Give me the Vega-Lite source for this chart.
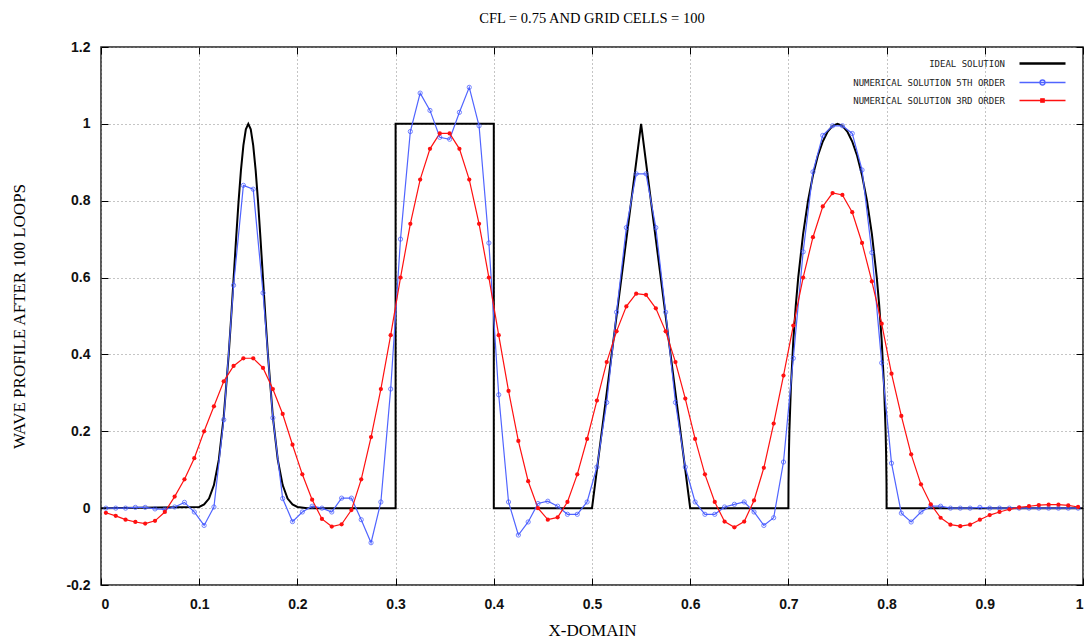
{
  "$schema": "https://vega.github.io/schema/vega-lite/v6.json",
  "width": 982,
  "height": 538,
  "autosize": {"type": "none"},
  "padding": {"left": 101, "top": 47, "right": 3, "bottom": 57},
  "background": "white",
  "config": {
    "view": {"stroke": "#222", "strokeWidth": 1.5},
    "font": "Liberation Serif"
  },
  "title": {
    "text": "CFL = 0.75 AND GRID CELLS = 100",
    "font": "Liberation Serif",
    "fontSize": 14.5,
    "fontWeight": "normal",
    "color": "#000",
    "anchor": "middle",
    "offset": 14
  },
  "datasets": {
    "ideal": [
      {"k": 0, "s": "ideal", "x": 0, "y": 0},
      {"k": 1, "s": "ideal", "x": 0.1, "y": 0.003},
      {"k": 2, "s": "ideal", "x": 0.105, "y": 0.0095},
      {"k": 3, "s": "ideal", "x": 0.11, "y": 0.025},
      {"k": 4, "s": "ideal", "x": 0.115, "y": 0.06},
      {"k": 5, "s": "ideal", "x": 0.12, "y": 0.126},
      {"k": 6, "s": "ideal", "x": 0.125, "y": 0.238},
      {"k": 7, "s": "ideal", "x": 0.13, "y": 0.399},
      {"k": 8, "s": "ideal", "x": 0.1325, "y": 0.494},
      {"k": 9, "s": "ideal", "x": 0.135, "y": 0.596},
      {"k": 10, "s": "ideal", "x": 0.1375, "y": 0.698},
      {"k": 11, "s": "ideal", "x": 0.14, "y": 0.795},
      {"k": 12, "s": "ideal", "x": 0.1425, "y": 0.879},
      {"k": 13, "s": "ideal", "x": 0.145, "y": 0.944},
      {"k": 14, "s": "ideal", "x": 0.1475, "y": 0.986},
      {"k": 15, "s": "ideal", "x": 0.15, "y": 1},
      {"k": 16, "s": "ideal", "x": 0.1525, "y": 0.986},
      {"k": 17, "s": "ideal", "x": 0.155, "y": 0.944},
      {"k": 18, "s": "ideal", "x": 0.1575, "y": 0.879},
      {"k": 19, "s": "ideal", "x": 0.16, "y": 0.795},
      {"k": 20, "s": "ideal", "x": 0.1625, "y": 0.698},
      {"k": 21, "s": "ideal", "x": 0.165, "y": 0.596},
      {"k": 22, "s": "ideal", "x": 0.1675, "y": 0.494},
      {"k": 23, "s": "ideal", "x": 0.17, "y": 0.399},
      {"k": 24, "s": "ideal", "x": 0.175, "y": 0.238},
      {"k": 25, "s": "ideal", "x": 0.18, "y": 0.126},
      {"k": 26, "s": "ideal", "x": 0.185, "y": 0.06},
      {"k": 27, "s": "ideal", "x": 0.19, "y": 0.025},
      {"k": 28, "s": "ideal", "x": 0.195, "y": 0.0095},
      {"k": 29, "s": "ideal", "x": 0.2, "y": 0.003},
      {"k": 30, "s": "ideal", "x": 0.21, "y": 0},
      {"k": 31, "s": "ideal", "x": 0.3, "y": 0},
      {"k": 32, "s": "ideal", "x": 0.3, "y": 1},
      {"k": 33, "s": "ideal", "x": 0.4, "y": 1},
      {"k": 34, "s": "ideal", "x": 0.4, "y": 0},
      {"k": 35, "s": "ideal", "x": 0.5, "y": 0},
      {"k": 36, "s": "ideal", "x": 0.55, "y": 1},
      {"k": 37, "s": "ideal", "x": 0.6, "y": 0},
      {"k": 38, "s": "ideal", "x": 0.7, "y": 0},
      {"k": 39, "s": "ideal", "x": 0.7001, "y": 0.063},
      {"k": 40, "s": "ideal", "x": 0.7005, "y": 0.141},
      {"k": 41, "s": "ideal", "x": 0.701, "y": 0.199},
      {"k": 42, "s": "ideal", "x": 0.7025, "y": 0.312},
      {"k": 43, "s": "ideal", "x": 0.705, "y": 0.436},
      {"k": 44, "s": "ideal", "x": 0.7075, "y": 0.527},
      {"k": 45, "s": "ideal", "x": 0.71, "y": 0.6},
      {"k": 46, "s": "ideal", "x": 0.715, "y": 0.714},
      {"k": 47, "s": "ideal", "x": 0.72, "y": 0.8},
      {"k": 48, "s": "ideal", "x": 0.725, "y": 0.866},
      {"k": 49, "s": "ideal", "x": 0.73, "y": 0.917},
      {"k": 50, "s": "ideal", "x": 0.735, "y": 0.954},
      {"k": 51, "s": "ideal", "x": 0.74, "y": 0.98},
      {"k": 52, "s": "ideal", "x": 0.745, "y": 0.995},
      {"k": 53, "s": "ideal", "x": 0.75, "y": 1},
      {"k": 54, "s": "ideal", "x": 0.755, "y": 0.995},
      {"k": 55, "s": "ideal", "x": 0.76, "y": 0.98},
      {"k": 56, "s": "ideal", "x": 0.765, "y": 0.954},
      {"k": 57, "s": "ideal", "x": 0.77, "y": 0.917},
      {"k": 58, "s": "ideal", "x": 0.775, "y": 0.866},
      {"k": 59, "s": "ideal", "x": 0.78, "y": 0.8},
      {"k": 60, "s": "ideal", "x": 0.785, "y": 0.714},
      {"k": 61, "s": "ideal", "x": 0.79, "y": 0.6},
      {"k": 62, "s": "ideal", "x": 0.7925, "y": 0.527},
      {"k": 63, "s": "ideal", "x": 0.795, "y": 0.436},
      {"k": 64, "s": "ideal", "x": 0.7975, "y": 0.312},
      {"k": 65, "s": "ideal", "x": 0.799, "y": 0.199},
      {"k": 66, "s": "ideal", "x": 0.7995, "y": 0.141},
      {"k": 67, "s": "ideal", "x": 0.7999, "y": 0.063},
      {"k": 68, "s": "ideal", "x": 0.8, "y": 0},
      {"k": 69, "s": "ideal", "x": 1, "y": 0}
    ],
    "num": [
      {"x": 0.005, "o5": 0, "o3": -0.012},
      {"x": 0.015, "o5": 0, "o3": -0.02},
      {"x": 0.025, "o5": 0, "o3": -0.03},
      {"x": 0.035, "o5": 0.002, "o3": -0.036},
      {"x": 0.045, "o5": 0.002, "o3": -0.04},
      {"x": 0.055, "o5": -0.002, "o3": -0.033},
      {"x": 0.065, "o5": -0.003, "o3": -0.01},
      {"x": 0.075, "o5": 0.003, "o3": 0.03},
      {"x": 0.085, "o5": 0.015, "o3": 0.075},
      {"x": 0.095, "o5": -0.01, "o3": 0.13},
      {"x": 0.105, "o5": -0.045, "o3": 0.2},
      {"x": 0.115, "o5": 0.003, "o3": 0.265},
      {"x": 0.125, "o5": 0.23, "o3": 0.33},
      {"x": 0.135, "o5": 0.58, "o3": 0.37},
      {"x": 0.145, "o5": 0.84, "o3": 0.39},
      {"x": 0.155, "o5": 0.83, "o3": 0.39},
      {"x": 0.165, "o5": 0.56, "o3": 0.365},
      {"x": 0.175, "o5": 0.235, "o3": 0.31},
      {"x": 0.185, "o5": 0.025, "o3": 0.245},
      {"x": 0.195, "o5": -0.035, "o3": 0.165},
      {"x": 0.205, "o5": -0.01, "o3": 0.088},
      {"x": 0.215, "o5": 0.005, "o3": 0.022},
      {"x": 0.225, "o5": 0, "o3": -0.028},
      {"x": 0.235, "o5": -0.01, "o3": -0.048},
      {"x": 0.245, "o5": 0.026, "o3": -0.042},
      {"x": 0.255, "o5": 0.026, "o3": -0.005},
      {"x": 0.265, "o5": -0.03, "o3": 0.075},
      {"x": 0.275, "o5": -0.09, "o3": 0.185},
      {"x": 0.285, "o5": 0.016, "o3": 0.31},
      {"x": 0.295, "o5": 0.31, "o3": 0.45},
      {"x": 0.305, "o5": 0.7, "o3": 0.6},
      {"x": 0.315, "o5": 0.98, "o3": 0.74},
      {"x": 0.325, "o5": 1.08, "o3": 0.855},
      {"x": 0.335, "o5": 1.035, "o3": 0.935},
      {"x": 0.345, "o5": 0.965, "o3": 0.975},
      {"x": 0.355, "o5": 0.96, "o3": 0.975},
      {"x": 0.365, "o5": 1.03, "o3": 0.935},
      {"x": 0.375, "o5": 1.095, "o3": 0.855},
      {"x": 0.385, "o5": 0.995, "o3": 0.74},
      {"x": 0.395, "o5": 0.69, "o3": 0.6},
      {"x": 0.405, "o5": 0.295, "o3": 0.45},
      {"x": 0.415, "o5": 0.016, "o3": 0.305},
      {"x": 0.425, "o5": -0.07, "o3": 0.175},
      {"x": 0.435, "o5": -0.036, "o3": 0.07},
      {"x": 0.445, "o5": 0.012, "o3": 0},
      {"x": 0.455, "o5": 0.018, "o3": -0.03},
      {"x": 0.465, "o5": 0.005, "o3": -0.024},
      {"x": 0.475, "o5": -0.016, "o3": 0.016},
      {"x": 0.485, "o5": -0.016, "o3": 0.088},
      {"x": 0.495, "o5": 0.016, "o3": 0.18},
      {"x": 0.505, "o5": 0.107, "o3": 0.28},
      {"x": 0.515, "o5": 0.275, "o3": 0.38},
      {"x": 0.525, "o5": 0.51, "o3": 0.46},
      {"x": 0.535, "o5": 0.73, "o3": 0.525},
      {"x": 0.545, "o5": 0.87, "o3": 0.558},
      {"x": 0.555, "o5": 0.87, "o3": 0.555},
      {"x": 0.565, "o5": 0.73, "o3": 0.52},
      {"x": 0.575, "o5": 0.51, "o3": 0.46},
      {"x": 0.585, "o5": 0.275, "o3": 0.38},
      {"x": 0.595, "o5": 0.107, "o3": 0.285},
      {"x": 0.605, "o5": 0.016, "o3": 0.18},
      {"x": 0.615, "o5": -0.016, "o3": 0.088},
      {"x": 0.625, "o5": -0.016, "o3": 0.016},
      {"x": 0.635, "o5": 0.003, "o3": -0.035},
      {"x": 0.645, "o5": 0.01, "o3": -0.05},
      {"x": 0.655, "o5": 0.016, "o3": -0.035},
      {"x": 0.665, "o5": -0.01, "o3": 0.02},
      {"x": 0.675, "o5": -0.045, "o3": 0.105},
      {"x": 0.685, "o5": -0.025, "o3": 0.22},
      {"x": 0.695, "o5": 0.12, "o3": 0.345},
      {"x": 0.705, "o5": 0.39, "o3": 0.475},
      {"x": 0.715, "o5": 0.667, "o3": 0.6},
      {"x": 0.725, "o5": 0.875, "o3": 0.705},
      {"x": 0.735, "o5": 0.97, "o3": 0.785},
      {"x": 0.745, "o5": 0.995, "o3": 0.82},
      {"x": 0.755, "o5": 0.995, "o3": 0.815},
      {"x": 0.765, "o5": 0.975, "o3": 0.77},
      {"x": 0.775, "o5": 0.88, "o3": 0.69},
      {"x": 0.785, "o5": 0.665, "o3": 0.59},
      {"x": 0.795, "o5": 0.378, "o3": 0.48},
      {"x": 0.805, "o5": 0.117, "o3": 0.35},
      {"x": 0.815, "o5": -0.013, "o3": 0.24},
      {"x": 0.825, "o5": -0.036, "o3": 0.14},
      {"x": 0.835, "o5": -0.01, "o3": 0.062},
      {"x": 0.845, "o5": 0.005, "o3": 0.01},
      {"x": 0.855, "o5": 0.005, "o3": -0.025},
      {"x": 0.865, "o5": 0, "o3": -0.043},
      {"x": 0.875, "o5": 0, "o3": -0.047},
      {"x": 0.885, "o5": 0, "o3": -0.043},
      {"x": 0.895, "o5": 0.002, "o3": -0.03},
      {"x": 0.905, "o5": 0, "o3": -0.018},
      {"x": 0.915, "o5": 0, "o3": -0.01},
      {"x": 0.925, "o5": 0, "o3": -0.003},
      {"x": 0.935, "o5": 0, "o3": 0.002},
      {"x": 0.945, "o5": 0, "o3": 0.005},
      {"x": 0.955, "o5": 0, "o3": 0.008},
      {"x": 0.965, "o5": 0, "o3": 0.009},
      {"x": 0.975, "o5": 0, "o3": 0.009},
      {"x": 0.985, "o5": 0, "o3": 0.007},
      {"x": 0.995, "o5": 0, "o3": 0.003}
    ]
  },
  "layer": [
    {
      "data": {"name": "ideal"},
      "mark": {"type": "line", "strokeWidth": 2, "clip": true},
      "encoding": {
        "x": {
          "field": "x", "type": "quantitative",
          "scale": {"domain": [0, 1], "nice": false, "zero": false},
          "axis": {
            "orient": "bottom",
            "values": [0, 0.1, 0.2, 0.3, 0.4, 0.5, 0.6, 0.7, 0.8, 0.9, 1],
            "format": "~g",
            "grid": true, "gridDash": [1, 3], "gridColor": "#8a8a8a", "gridWidth": 1,
            "domain": false,
            "ticks": true, "tickSize": -7, "tickColor": "#000", "tickWidth": 1,
            "labelFont": "Liberation Sans", "labelFontSize": 14, "labelFontWeight": "bold", "labelColor": "#111",
            "labelPadding": 19,
            "title": "X-DOMAIN", "titleFont": "Liberation Serif", "titleFontSize": 17,
            "titleFontWeight": "normal", "titleColor": "#000", "titlePadding": 11
          }
        },
        "y": {
          "field": "y", "type": "quantitative",
          "scale": {"domain": [-0.2, 1.2], "nice": false, "zero": false},
          "axis": {
            "orient": "left",
            "values": [-0.2, 0, 0.2, 0.4, 0.6, 0.8, 1, 1.2],
            "format": "~g",
            "labelExpr": "replace(datum.label, '−', '-')",
            "grid": true, "gridDash": [1, 3], "gridColor": "#8a8a8a", "gridWidth": 1,
            "domain": false,
            "ticks": true, "tickSize": -7, "tickColor": "#000", "tickWidth": 1,
            "labelFont": "Liberation Sans", "labelFontSize": 14, "labelFontWeight": "bold", "labelColor": "#111",
            "labelPadding": 18,
            "title": "WAVE PROFILE AFTER 100 LOOPS", "titleFont": "Liberation Serif", "titleFontSize": 17,
            "titleFontWeight": "normal", "titleColor": "#000", "titlePadding": 37
          }
        },
        "order": {"field": "k", "type": "quantitative"},
        "color": {
          "field": "s", "type": "nominal",
          "scale": {"domain": ["ideal", "o5", "o3"], "range": ["#000000", "#5064ff", "#ff1010"]},
          "legend": {
            "title": null,
            "orient": "top-right",
            "offset": 8,
            "padding": 4,
            "rowPadding": 8,
            "symbolSize": 400,
            "symbolStrokeWidth": 1.3,
            "labelFont": "DejaVu Sans Mono",
            "labelFontSize": 9,
            "labelColor": "#222",
            "labelAlign": "right",
            "labelOffset": -42,
            "labelExpr": "datum.value == 'ideal' ? 'IDEAL SOLUTION' : datum.value == 'o5' ? 'NUMERICAL SOLUTION 5TH ORDER' : 'NUMERICAL SOLUTION 3RD ORDER'",
            "encode": {
              "symbols": {
                "update": {
                  "shape": {"signal": "datum.value === 'o5' ? 'M-2.3,0H2.3M0.25,0A0.25,0.25 0 1 1 -0.25,0A0.25,0.25 0 1 1 0.25,0' : datum.value === 'o3' ? 'M-2.3,0H2.3M-0.17,-0.17H0.17V0.17H-0.17Z' : 'M-2.3,0H2.3'"},
                  "fill": {"signal": "datum.value === 'o3' ? '#ff1010' : 'transparent'"},
                  "strokeWidth": {"signal": "datum.value === 'ideal' ? 2.5 : 1.3"}
                }
              }
            }
          }
        }
      }
    },
    {
      "data": {"name": "num"},
      "transform": [{"fold": ["o5", "o3"], "as": ["s", "y"]}],
      "mark": {"type": "line", "strokeWidth": 1.2, "clip": true},
      "encoding": {
        "x": {
          "field": "x", "type": "quantitative",
          "axis": {
            "orient": "top",
            "values": [0, 0.1, 0.2, 0.3, 0.4, 0.5, 0.6, 0.7, 0.8, 0.9, 1],
            "labels": false, "grid": false, "domain": false,
            "tickSize": -7, "tickColor": "#000", "tickWidth": 1, "title": null
          }
        },
        "y": {
          "field": "y", "type": "quantitative",
          "axis": {
            "orient": "right",
            "values": [-0.2, 0, 0.2, 0.4, 0.6, 0.8, 1, 1.2],
            "labels": false, "grid": false, "domain": false,
            "tickSize": -7, "tickColor": "#000", "tickWidth": 1, "title": null
          }
        },
        "color": {"field": "s", "type": "nominal"}
      }
    },
    {
      "data": {"name": "num"},
      "mark": {"type": "point", "shape": "circle", "filled": false, "size": 18, "strokeWidth": 1, "color": "#3a50ff", "clip": true},
      "encoding": {
        "x": {"field": "x", "type": "quantitative", "axis": null},
        "y": {"field": "o5", "type": "quantitative", "axis": null}
      }
    },
    {
      "data": {"name": "num"},
      "mark": {"type": "point", "shape": "circle", "filled": true, "size": 18, "opacity": 1, "color": "#ff1010", "clip": true},
      "encoding": {
        "x": {"field": "x", "type": "quantitative", "axis": null},
        "y": {"field": "o3", "type": "quantitative", "axis": null}
      }
    }
  ],
  "resolve": {"axis": {"x": "independent", "y": "independent"}}
}
